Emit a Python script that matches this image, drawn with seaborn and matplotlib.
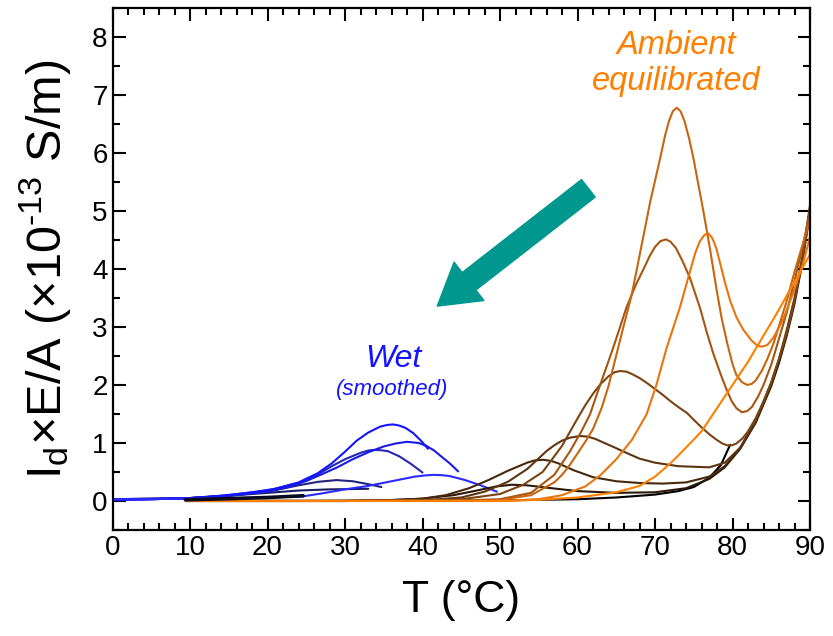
import pandas as pd
import seaborn as sns
import matplotlib.pyplot as plt
from matplotlib.ticker import MultipleLocator

# ambient equilibrated runs, dark -> light
t_a0 = [9.5, 20, 30, 40, 50, 60, 65, 70, 73, 75, 77, 78.5, 79.7]
i_a0 = [0.0, 0.0, 0.0, 0.005, 0.01, 0.03, 0.06, 0.11, 0.17, 0.24, 0.4, 0.62, 0.97]

t_a1 = [9.5, 20, 30, 35, 40, 44, 47, 49.5, 51.5, 53.5, 56, 60, 65, 70, 74, 77, 79, 81, 83, 85, 86, 87, 88, 89, 90]
i_a1 = [0, 0, 0.0, 0.01, 0.04, 0.1, 0.18, 0.25, 0.28, 0.27, 0.23, 0.17, 0.14, 0.15, 0.22, 0.38, 0.58, 0.9, 1.35, 1.98, 2.38, 2.85, 3.4, 4.1, 5.0]

t_a2 = [9.5, 25, 35, 40, 43, 46, 48.5, 51, 53.5, 54.5, 55.6, 56.6, 57.5, 58.5, 59.5, 62, 65, 68, 71, 74, 77, 79, 81, 83, 85, 86, 87, 88, 89, 90]
i_a2 = [0, 0, 0.01, 0.04, 0.1, 0.22, 0.36, 0.52, 0.66, 0.7, 0.71, 0.69, 0.65, 0.59, 0.53, 0.41, 0.34, 0.31, 0.3, 0.32, 0.42, 0.6, 0.92, 1.38, 2.03, 2.42, 2.9, 3.45, 4.15, 5.05]

t_a3 = [9.5, 30, 40, 45, 48, 51, 53.5, 56, 57, 58, 59, 60.3, 61.3, 62.3, 63.3, 64.5, 66.3, 68, 70, 73, 77, 79, 81, 83, 85, 86, 87, 88, 89, 90]
i_a3 = [0, 0, 0.01, 0.06, 0.16, 0.33, 0.55, 0.86, 0.96, 1.04, 1.09, 1.12, 1.11, 1.07, 1.01, 0.94, 0.83, 0.73, 0.66, 0.6, 0.58, 0.66, 0.92, 1.38, 2.03, 2.45, 2.95, 3.5, 4.2, 5.1]

t_a4 = [9.5, 30, 40, 45, 50, 53, 55.5, 58, 59.9, 61, 62, 63, 64, 64.8, 65.5, 66.3, 67, 68, 69, 70, 71, 72, 73, 74.1, 75, 76, 77, 78, 78.7, 79.3, 79.9, 80.5, 81.3, 82, 83, 84, 85, 86, 87, 88, 89, 90]
i_a4 = [0, 0, 0.01, 0.03, 0.12, 0.28, 0.5, 0.95, 1.4, 1.65, 1.85, 2.02, 2.15, 2.22, 2.24, 2.23, 2.19, 2.12, 2.03, 1.93, 1.83, 1.72, 1.62, 1.52, 1.4, 1.27, 1.15, 1.05, 0.99, 0.96, 0.96, 0.99, 1.08, 1.2, 1.43, 1.72, 2.05, 2.45, 2.9, 3.45, 4.15, 4.95]

t_a5 = [9.5, 30, 45, 50, 54, 57, 59, 60.5, 61.6, 62.5, 63.5, 64.6, 66.3, 67.5, 68.6, 69.3, 70, 70.7, 71.4, 72, 72.7, 73.5, 74.5, 75.8, 76.7, 77.5, 78.4, 79.2, 79.9, 80.5, 81.2, 81.9, 82.5, 83.3, 84, 85, 86, 87, 88, 89, 90]
i_a5 = [0, 0, 0.01, 0.03, 0.14, 0.45, 0.85, 1.2, 1.49, 1.84, 2.22, 2.64, 3.33, 3.72, 4.02, 4.22, 4.38, 4.48, 4.51, 4.47, 4.36, 4.15, 3.85, 3.33, 2.9, 2.55, 2.21, 1.93, 1.72, 1.6, 1.53, 1.55, 1.62, 1.8, 2.0, 2.35, 2.8, 3.25, 3.8, 4.35, 5.0]

t_a6 = [9.5, 30, 45, 50, 54, 57, 58, 59, 60, 61, 62, 63.1, 64, 64.6, 65.9, 67, 68.3, 69.4, 70.6, 71.3, 71.8, 72.3, 72.8, 73.3, 73.8, 74.4, 75, 75.5, 76, 76.5, 77.1, 78, 78.6, 79.3, 80, 80.5, 81.2, 81.9, 82.5, 83, 83.8, 84.5, 85.3, 86, 87, 88, 89, 90]
i_a6 = [0, 0, 0.005, 0.02, 0.1, 0.32, 0.45, 0.62, 0.82, 1.02, 1.24, 1.6, 1.98, 2.3, 2.99, 3.56, 4.43, 5.17, 5.87, 6.3, 6.55, 6.72, 6.78, 6.72, 6.55, 6.25, 5.88, 5.52, 5.17, 4.8, 4.34, 3.6, 3.15, 2.73, 2.36, 2.17, 2.05, 2.0, 2.02, 2.08, 2.25, 2.45, 2.72, 3.02, 3.45, 3.95, 4.4, 4.85]

t_a7 = [9.5, 30, 50, 55, 58, 61, 63, 65, 67, 68.9, 70.2, 71.5, 73.2, 74.5, 75.2, 75.8, 76.4, 76.9, 77.4, 77.9, 78.4, 79, 79.7, 80.5, 81.4, 82.5, 83.2, 83.8, 84.5, 85.3, 86.5, 88, 89, 90]
i_a7 = [0, 0, 0.0, 0.03, 0.1, 0.25, 0.45, 0.72, 1.05, 1.49, 2.01, 2.64, 3.33, 3.95, 4.28, 4.48, 4.59, 4.61, 4.53, 4.36, 4.1, 3.78, 3.45, 3.17, 2.95, 2.76, 2.68, 2.66, 2.69, 2.82, 3.12, 3.65, 4.05, 4.55]

t_a8 = [9.5, 30, 50, 55, 60, 65, 68, 70, 72, 74, 76, 78, 80, 82, 84, 86, 88, 90]
i_a8 = [0, 0, 0.0, 0.02, 0.06, 0.15, 0.26, 0.42, 0.65, 0.92, 1.2, 1.6, 2.0, 2.4, 2.85, 3.3, 3.78, 4.25]

# wet runs (smoothed)
t_b1 = [0, 5, 10, 14, 18, 21, 24, 26.5, 28.3, 30, 31.5, 33, 34.5, 35.4, 36.2, 37, 37.8, 38.8, 39.8, 40.7]
i_b1 = [0.02, 0.03, 0.05, 0.09, 0.15, 0.21, 0.32, 0.48, 0.65, 0.85, 1.04, 1.18, 1.28, 1.31, 1.32, 1.3, 1.26, 1.17, 1.04, 0.9]

t_b2 = [0, 5, 10, 15, 20, 23, 25.1, 27, 29, 31, 33, 35, 36.5, 38, 39.5, 40.5, 41.5, 42.3, 43.5, 44.6]
i_b2 = [0.02, 0.03, 0.05, 0.09, 0.16, 0.25, 0.35, 0.46, 0.58, 0.72, 0.84, 0.94, 0.99, 1.02, 1.0, 0.95, 0.87, 0.78, 0.65, 0.51]

t_b3 = [0, 5, 10, 15, 20, 24, 26.5, 28.3, 30, 32, 33, 33.7, 34.6, 35.5, 37, 38.5, 40]
i_b3 = [0.02, 0.03, 0.05, 0.1, 0.18, 0.31, 0.46, 0.6, 0.72, 0.83, 0.87, 0.88, 0.875, 0.86, 0.77, 0.64, 0.49]

t_b4 = [0, 10, 20, 24.6, 27, 30, 33, 36, 39, 40.3, 41.4, 42.5, 43.5, 45.5, 47.5, 49.6]
i_b4 = [0.03, 0.04, 0.06, 0.08, 0.13, 0.2, 0.26, 0.34, 0.42, 0.44, 0.45, 0.445, 0.43, 0.36, 0.27, 0.16]

t_b5 = [0, 10, 15, 20, 24, 26.5, 28.9, 31, 33, 34.7]
i_b5 = [0.03, 0.05, 0.09, 0.16, 0.27, 0.33, 0.36, 0.34, 0.29, 0.24]

t_b6 = [0, 10, 15, 20, 24, 28, 33]
i_b6 = [0.03, 0.05, 0.09, 0.14, 0.18, 0.2, 0.21]

t_b7 = [9.4, 15, 20, 24.6]
i_b7 = [0.02, 0.04, 0.06, 0.09]

runs = {
    'b6': (t_b6, i_b6, '#1c1c66'), 'b5': (t_b5, i_b5, '#24247f'),
    'b3': (t_b3, i_b3, '#2525b8'), 'b2': (t_b2, i_b2, '#1a1ae6'),
    'b1': (t_b1, i_b1, '#1414ff'), 'b4': (t_b4, i_b4, '#2a2aff'),
    'a0': (t_a0, i_a0, '#000000'), 'a1': (t_a1, i_a1, '#2b1a08'),
    'a2': (t_a2, i_a2, '#46290d'), 'a3': (t_a3, i_a3, '#5e3510'),
    'a4': (t_a4, i_a4, '#7a4412'), 'a5': (t_a5, i_a5, '#a55611'),
    'a6': (t_a6, i_a6, '#c8650f'), 'a7': (t_a7, i_a7, '#e8740c'),
    'a8': (t_a8, i_a8, '#ff8000'),
}
df = pd.concat([pd.DataFrame({'T': t, 'I': i, 'run': k}) for k, (t, i, c) in runs.items()])
pal = {k: v[2] for k, v in runs.items()}

sns.set_style('ticks')
plt.rcParams['font.family'] = ['Liberation Sans', 'DejaVu Sans']
plt.rcParams['mathtext.fontset'] = 'custom'
plt.rcParams['mathtext.rm'] = 'Liberation Sans'
plt.rcParams['mathtext.it'] = 'Liberation Sans:italic'
plt.rcParams['text.color'] = 'black'
plt.rcParams['axes.labelcolor'] = 'black'
plt.rcParams['xtick.color'] = 'black'
plt.rcParams['ytick.color'] = 'black'
plt.rcParams['axes.edgecolor'] = 'black'

fig = plt.figure(figsize=(8.33, 6.36), dpi=100)
ax = fig.add_axes([0.1351, 0.1667, 0.8373, 0.8208])

sns.lineplot(data=df, x='T', y='I', hue='run', palette=pal, sort=False,
             estimator=None, legend=False, linewidth=1.5, ax=ax)
sns.lineplot(x=t_b7, y=i_b7, color='#0a0a1e', linewidth=2.6, sort=False, ax=ax)

ax.set_xlim(0, 90)
ax.set_ylim(-0.5, 8.5)
ax.xaxis.set_major_locator(MultipleLocator(10))
ax.xaxis.set_minor_locator(MultipleLocator(2))
ax.yaxis.set_major_locator(MultipleLocator(1))
ax.yaxis.set_minor_locator(MultipleLocator(0.5))
ax.tick_params(which='both', direction='in', top=True, right=True, width=1.5, labelsize=20)
ax.tick_params(which='major', length=9)
ax.tick_params(which='minor', length=5)
for s in ax.spines.values():
    s.set_linewidth(1.6)

ax.set_xlabel('T (°C)', fontsize=32, labelpad=14)
ax.set_ylabel(r'I$_\mathregular{d}$×E/A (×10$^\text{-13}$ S/m)', fontsize=35, labelpad=14)

ax.annotate('', xy=(41.9, 3.36), xytext=(61.4, 5.39),
            arrowprops=dict(arrowstyle='simple,head_length=1.45,head_width=1.75,tail_width=0.8',
                            color='#00978f', shrinkA=0, shrinkB=0, mutation_scale=20))

ax.text(72.8, 7.86, 'Ambient', color='#ff8000', fontsize=23.5, style='italic', ha='center', va='center')
ax.text(72.8, 7.24, 'equilibrated', color='#ff8000', fontsize=23.5, style='italic', ha='center', va='center')
ax.text(36.3, 2.45, 'Wet', color='#1414ff', fontsize=23, style='italic', ha='center', va='center')
ax.text(36.1, 1.93, '(smoothed)', color='#1414ff', fontsize=16, style='italic', ha='center', va='center')

fig.savefig('out.png', dpi=100)
